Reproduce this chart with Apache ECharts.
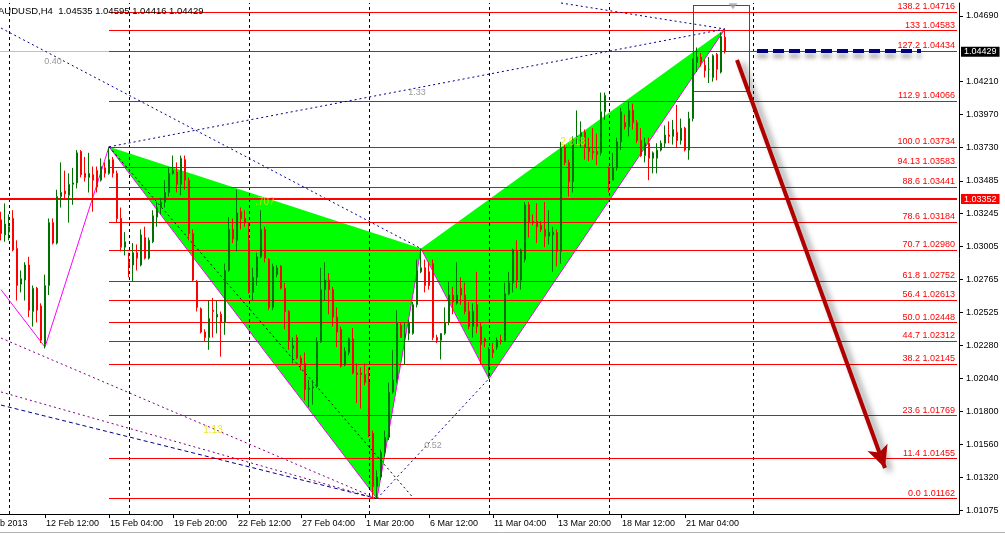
<!DOCTYPE html>
<html><head><meta charset="utf-8">
<script src="https://cdn.jsdelivr.net/npm/echarts@6/dist/echarts.min.js"></script>
<style>html,body{margin:0;padding:0;background:#fff;overflow:hidden;width:1005px;height:534px;position:relative}
#c{position:absolute;left:-21px;top:0;width:1026px;height:534px}</style>
</head><body><div id="c"></div>
<script>
// ---------- DATA ----------
const symbolTitle = 'AUDUSD,H4  1.04535 1.04595 1.04416 1.04429';
const slotCount = 245;            // time slots on the x axis (bars + future)
const firstBarSlot = 5;           // slot of first bar (8 Feb 2013 16:00)
const xTickLabels = [[0,'7 Feb 2013'],[16,'12 Feb 12:00'],[32,'15 Feb 04:00'],[48,'19 Feb 20:00'],[64,'22 Feb 12:00'],[80,'27 Feb 04:00'],[96,'1 Mar 20:00'],[112,'6 Mar 12:00'],[128,'11 Mar 04:00'],[144,'13 Mar 20:00'],[160,'18 Mar 12:00'],[176,'21 Mar 04:00']];
const yTickValues = [1.01075,1.01320,1.01560,1.01800,1.02040,1.02280,1.02525,1.02765,1.03005,1.03245,1.03485,1.03730,1.03970,1.04210,1.04690];
const weekGridSlots = [7,37,67,97,127,157,193];
// bars: [open, high, low, close]
const ohlc = [
[1.0320,1.0326,1.0305,1.0310],[1.0309,1.0332,1.0304,1.0317],[1.0311,1.0324,1.0305,1.0315],[1.0321,1.0327,1.0297,1.0298],
[1.0299,1.0305,1.0261,1.0272],[1.0273,1.0283,1.0267,1.0277],[1.0276,1.0289,1.0261,1.0287],[1.0287,1.0293,1.0249,1.0254],
[1.0253,1.0272,1.0242,1.0270],[1.0270,1.0271,1.0245,1.0254],[1.0257,1.0259,1.0230,1.0232],[1.0229,1.0280,1.0226,1.0272],
[1.0272,1.0321,1.0265,1.0318],[1.0318,1.0321,1.0302,1.0303],[1.0303,1.0342,1.0302,1.0337],[1.0337,1.0362,1.0329,1.0340],
[1.0341,1.0356,1.0335,1.0339],[1.0338,1.0354,1.0318,1.0346],[1.0346,1.0358,1.0331,1.0347],[1.0347,1.0371,1.0343,1.0369],
[1.0370,1.0371,1.0351,1.0353],[1.0354,1.0366,1.0348,1.0351],[1.0351,1.0369,1.0340,1.0354],[1.0353,1.0359,1.0326,1.0349],
[1.0356,1.0359,1.0340,1.0344],[1.0349,1.0365,1.0348,1.0359],[1.0358,1.0362,1.0351,1.0354],[1.0354,1.0373,1.0353,1.0364],
[1.0364,1.0366,1.0351,1.0354],[1.0354,1.0356,1.0318,1.0321],[1.0321,1.0329,1.0297,1.0300],[1.0300,1.0311,1.0294,1.0304],
[1.0289,1.0296,1.0278,1.0287],[1.0287,1.0303,1.0275,1.0296],[1.0296,1.0302,1.0283,1.0292],[1.0287,1.0313,1.0286,1.0309],
[1.0307,1.0315,1.0291,1.0292],[1.0292,1.0307,1.0291,1.0305],[1.0304,1.0327,1.0303,1.0323],[1.0322,1.0333,1.0315,1.0329],
[1.0329,1.0336,1.0324,1.0333],[1.0333,1.0349,1.0329,1.0340],[1.0340,1.0358,1.0337,1.0354],[1.0354,1.0367,1.0353,1.0356],
[1.0355,1.0362,1.0340,1.0346],[1.0346,1.0367,1.0338,1.0365],[1.0364,1.0367,1.0342,1.0349],[1.0349,1.0351,1.0305,1.0310],
[1.0310,1.0313,1.0275,1.0276],[1.0275,1.0276,1.0253,1.0256],[1.0255,1.0256,1.0237,1.0238],[1.0238,1.0240,1.0231,1.0234],
[1.0234,1.0261,1.0225,1.0248],[1.0254,1.0263,1.0234,1.0253],[1.0249,1.0261,1.0237,1.0251],[1.0251,1.0253,1.0220,1.0245],
[1.0245,1.0288,1.0236,1.0283],[1.0283,1.0322,1.0282,1.0313],[1.0313,1.0321,1.0303,1.0306],[1.0305,1.0342,1.0297,1.0325],
[1.0326,1.0329,1.0313,1.0321],[1.0321,1.0327,1.0315,1.0318],[1.0305,1.0318,1.0266,1.0267],[1.0267,1.0285,1.0261,1.0278],
[1.0278,1.0296,1.0272,1.0293],[1.0293,1.0327,1.0292,1.0313],[1.0313,1.0315,1.0289,1.0292],[1.0291,1.0292,1.0254,1.0256],
[1.0256,1.0288,1.0254,1.0286],[1.0280,1.0287,1.0278,1.0285],[1.0286,1.0287,1.0269,1.0270],[1.0270,1.0274,1.0240,1.0253],
[1.0253,1.0254,1.0225,1.0232],[1.0226,1.0234,1.0215,1.0228],[1.0234,1.0236,1.0218,1.0219],[1.0219,1.0221,1.0210,1.0215],
[1.0215,1.0223,1.0188,1.0196],[1.0196,1.0203,1.0183,1.0197],[1.0197,1.0203,1.0185,1.0198],[1.0198,1.0234,1.0197,1.0231],
[1.0231,1.0285,1.0230,1.0269],[1.0269,1.0289,1.0261,1.0276],[1.0276,1.0281,1.0251,1.0269],[1.0269,1.0271,1.0242,1.0249],
[1.0249,1.0256,1.0227,1.0238],[1.0240,1.0242,1.0212,1.0213],[1.0214,1.0227,1.0213,1.0224],[1.0223,1.0234,1.0221,1.0233],
[1.0233,1.0241,1.0207,1.0208],[1.0208,1.0215,1.0186,1.0207],[1.0208,1.0212,1.0182,1.0207],[1.0207,1.0215,1.0199,1.0201],
[1.0201,1.0212,1.0161,1.0163],[1.0164,1.0166,1.0117,1.0125],[1.0125,1.0137,1.01162,1.0132],[1.0132,1.0152,1.0130,1.0150],
[1.0150,1.0166,1.0147,1.0161],[1.0161,1.0201,1.0159,1.0194],[1.0194,1.0225,1.0193,1.0203],[1.0203,1.0254,1.0201,1.0245],
[1.0243,1.0245,1.0234,1.0234],[1.0234,1.0245,1.0214,1.0237],[1.0237,1.0247,1.0232,1.0245],[1.0237,1.0260,1.0236,1.0258],
[1.0258,1.0291,1.0256,1.0283],[1.0282,1.0299,1.0281,1.0285],[1.0285,1.0291,1.0267,1.0272],[1.0282,1.0289,1.0269,1.0272],
[1.0288,1.0291,1.0232,1.0234],[1.0234,1.0236,1.0230,1.0232],[1.0232,1.0237,1.0218,1.0237],[1.0237,1.0256,1.0236,1.0245],
[1.0245,1.0275,1.0243,1.0265],[1.0265,1.0271,1.0251,1.0260],[1.0259,1.0289,1.0258,1.0265],[1.0270,1.0278,1.0258,1.0265],
[1.0265,1.0274,1.0251,1.0253],[1.0253,1.0260,1.0240,1.0242],[1.0242,1.0259,1.0234,1.0253],[1.0258,1.0282,1.0237,1.0242],
[1.0242,1.0245,1.0214,1.0229],[1.0233,1.0234,1.0227,1.0231],[1.0213,1.0227,1.0204,1.0225],[1.0225,1.0230,1.0219,1.0223],
[1.0227,1.0234,1.0225,1.0232],[1.0232,1.0236,1.0229,1.0231],[1.0232,1.0274,1.0231,1.0266],[1.0266,1.0282,1.0265,1.0274],
[1.0274,1.0299,1.0267,1.0298],[1.0297,1.0305,1.0270,1.0276],[1.0276,1.0299,1.0269,1.0298],[1.0291,1.0333,1.0289,1.0331],
[1.0331,1.0333,1.0307,1.0318],[1.0319,1.0324,1.0316,1.0318],[1.0319,1.0332,1.0303,1.0315],[1.0316,1.0319,1.0311,1.0313],
[1.0313,1.0333,1.0300,1.0308],[1.0308,1.0327,1.0302,1.0311],[1.0309,1.0315,1.0282,1.0311],[1.0311,1.0313,1.0286,1.0297],
[1.0297,1.0377,1.0288,1.0373],[1.0373,1.0375,1.0360,1.0362],[1.0362,1.0364,1.0337,1.0348],[1.0348,1.0381,1.0340,1.0378],
[1.0378,1.0400,1.0375,1.0381],[1.0381,1.0392,1.0373,1.0384],[1.0384,1.0386,1.0364,1.0373],[1.0373,1.0380,1.0363,1.0370],
[1.0370,1.0387,1.0364,1.0369],[1.0370,1.0383,1.0360,1.0368],[1.0369,1.0413,1.0367,1.0399],[1.0399,1.0413,1.0393,1.0411],
[1.0358,1.0359,1.0340,1.0349],[1.0349,1.0369,1.0349,1.0358],[1.0358,1.0380,1.0356,1.0377],[1.0377,1.0402,1.0371,1.0399],
[1.0391,1.0397,1.0386,1.0388],[1.0388,1.0406,1.0381,1.0400],[1.0400,1.0405,1.0386,1.0391],[1.0391,1.0393,1.0376,1.0378],
[1.0378,1.0387,1.0366,1.0367],[1.0367,1.0380,1.0362,1.0376],[1.0376,1.0380,1.0349,1.0365],[1.0365,1.0370,1.0354,1.0369],
[1.0365,1.0376,1.0354,1.0371],[1.0371,1.0378,1.0370,1.0376],[1.0376,1.0389,1.0373,1.0382],[1.0382,1.0392,1.0376,1.0381],
[1.0381,1.0393,1.0375,1.0386],[1.0384,1.0404,1.0373,1.0378],[1.0378,1.0394,1.0375,1.0387],[1.0387,1.0388,1.0370,1.0371],
[1.0371,1.0399,1.0364,1.0394],[1.0394,1.0438,1.0392,1.0435],[1.0435,1.0446,1.0428,1.0439],[1.0439,1.0442,1.0432,1.0435],
[1.0433,1.0437,1.0424,1.0429],[1.0430,1.0439,1.0420,1.0430],[1.0424,1.0441,1.0421,1.0440],[1.0441,1.0442,1.0422,1.0430],
[1.0428,1.0457,1.0427,1.0454],[1.04535,1.04595,1.04416,1.04429]
];
const bidPrice = 1.04429;
const redLinePrice = 1.03352;
const fibStartSlot = 32;
const fibLevels = ['138.2','133','127.2','112.9','100.0','94.13','88.6','78.6','70.7','61.8','56.4','50.0','44.7','38.2','23.6','11.4','0.0'];
const fibPrices = [1.04716,1.04583,1.04434,1.04066,1.03734,1.03583,1.03441,1.03184,1.02980,1.02752,1.02613,1.02448,1.02312,1.02145,1.01769,1.01455,1.01162];
// harmonic pattern points X, A, B, C, D
const patternSlots = [32, 99, 110, 127, 186];
const patternPrices = [1.03734, 1.01162, 1.02990, 1.02040, 1.04595];
const priorLegSlots = [5, 16, 32];
const priorLegPrices = [1.0269, 1.0227, 1.03734];
// dotted ratio lines: [slot1, price1, slot2, price2, colour, dash]
const ratioLines = [
  [5, 1.04602, 110, 1.02990, '#00008b', [2, 3]],
  [32, 1.03734, 186, 1.04595, '#00008b', [2, 3]],
  [145, 1.04785, 186, 1.04595, '#00008b', [2, 3]],
  [99, 1.01162, 127, 1.02040, '#00008b', [2, 3]],
  [32, 1.03734, 108, 1.01170, '#000000', [2, 3]],
  [5, 1.02336, 99, 1.01162, '#800080', [2, 3]],
  [5, 1.01942, 99, 1.01162, '#800080', [2, 3]],
  [5, 1.01846, 99, 1.01162, '#00008b', [4, 3]]
];
const ratioTexts = [[18, 1.04354, '0.40'], [109, 1.04134, '1.33'], [113, 1.01554, '0.52']];
const patternTexts = [[71, 1.03330, '.707'], [148, 1.03769, '2.618'], [58, 1.01664, '1.13']];
const arrowLine = [189, 1.04368, 226, 1.01386];
const navyDash = [194, 1.04434, 235, 1.04434];
const boxRect = [178, 1.04770, 192, 1.04142];   // [slotLeft, priceTop, slotRight, priceBottom]
const markerTop = [188, 1.04762];

// ---------- CATEGORIES (H4 bars, weekends skipped) ----------
const categories = [];
(function () {
  const mon = ['Jan','Feb','Mar','Apr'];
  let t = Date.UTC(2013, 1, 7, 20);
  while (categories.length < slotCount) {
    const d = new Date(t), wd = d.getUTCDay();
    if (wd !== 0 && wd !== 6) categories.push(d.getUTCDate() + ' ' + mon[d.getUTCMonth()] + ' ' + String(d.getUTCHours()).padStart(2, '0') + ':00');
    t += 4 * 3600e3;
  }
})();
const tickMap = new Map(xTickLabels);

const FONT = 'Liberation Sans, Arial, sans-serif';
const candleData = ohlc.map((r, k) => [firstBarSlot + k, r[0], r[3], r[2], r[1]]);
const fullSpan = (p) => [{ coord: [0, p] }, { coord: [slotCount - 1, p] }];
const [bx1, by1, bx2, by2] = boxRect;
const boxEdges = [
  [[bx1, by1], [bx2, by1]], [[bx2, by1], [bx2, by2]], [[bx2, by2], [bx1, by2]], [[bx1, by2], [bx1, by1]]
].map(e => [{ coord: e[0] }, { coord: e[1] }]);

const chart = echarts.init(document.getElementById('c'), null, { renderer: 'canvas' });

const option = {
  animation: false,
  backgroundColor: '#ffffff',
  textStyle: { fontFamily: FONT },
  grid: { left: 0, top: 3, width: 980, height: 511, containLabel: false },
  xAxis: {
    type: 'category', data: categories, boundaryGap: true,
    axisLine: { show: true, lineStyle: { color: '#000', width: 1 } },
    axisTick: { show: true, alignWithLabel: true, length: 4, interval: (i) => tickMap.has(i), lineStyle: { color: '#000' } },
    axisLabel: { interval: (i) => tickMap.has(i), formatter: (v, i) => tickMap.get(i) || '', align: 'left', margin: 5, fontSize: 9, color: '#000', fontFamily: FONT, padding: [0, 0, 0, 1] },
    splitLine: { show: false }
  },
  yAxis: {
    type: 'value', position: 'right', min: 1.0105, max: 1.04785, scale: true,
    axisLine: { show: true, lineStyle: { color: '#000', width: 1 } },
    axisTick: { show: true, length: 4, customValues: yTickValues, lineStyle: { color: '#000' } },
    axisLabel: { customValues: yTickValues, formatter: (v) => v.toFixed(5), margin: 7, fontSize: 9, color: '#000', fontFamily: FONT },
    splitLine: { show: false }
  },
  graphic: [
    { type: 'text', left: 19, top: 6, style: { text: symbolTitle, font: '9.5px ' + FONT, fill: '#000' }, z: 100 },
    { type: 'line', shape: { x1: 21, y1: 532.5, x2: 1026, y2: 532.5 }, style: { stroke: '#b0b0b0', lineWidth: 1 }, z: 100 }
  ],
  series: [
    { // harmonic pattern triangles
      type: 'custom', z: 1, silent: true, clip: true, data: [0],
      renderItem: (params, api) => {
        const P = patternSlots.map((s, k) => api.coord([s, patternPrices[k]]));
        const L = priorLegSlots.map((s, k) => api.coord([s, priorLegPrices[k]]));
        return { type: 'group', children: [
          { type: 'polygon', shape: { points: [P[0], P[1], P[2]] }, style: { fill: '#00ff00' } },
          { type: 'polygon', shape: { points: [P[2], P[3], P[4]] }, style: { fill: '#00ff00' } },
          { type: 'polyline', shape: { points: P }, style: { stroke: '#ff00ff', lineWidth: 1, fill: null } },
          { type: 'polyline', shape: { points: L }, style: { stroke: '#ff00ff', lineWidth: 1, fill: null } }
        ] };
      }
    },
    { // weekly vertical grid
      type: 'line', data: [], z: 2, silent: true,
      markLine: { silent: true, symbol: 'none', label: { show: false },
        lineStyle: { color: '#000', width: 1, type: [3, 3] },
        data: weekGridSlots.map(s => ({ xAxis: s })) }
    },
    { // bid line
      type: 'line', data: [], z: 2, silent: true,
      markLine: { silent: true, symbol: 'none',
        lineStyle: { color: '#c0c0c0', width: 1, type: 'solid' },
        label: { show: true, position: 'end', distance: 4, formatter: bidPrice.toFixed(5), color: '#fff', backgroundColor: '#000', padding: [1, 3, 0, 3], fontSize: 9, fontFamily: FONT, lineHeight: 9 },
        data: [fullSpan(bidPrice)] }
    },
    { // fibonacci levels
      type: 'line', data: [], z: 3, silent: true,
      markLine: { silent: true, symbol: 'none',
        lineStyle: { color: '#ff0000', width: 1, type: 'solid' },
        label: { show: true, position: 'insideEndTop', distance: [2, 1], color: '#ff0000', fontSize: 9, fontFamily: FONT,
          formatter: (p) => fibLevels[p.dataIndex] + ' ' + fibPrices[p.dataIndex].toFixed(5) },
        data: fibPrices.map(p => [{ coord: [fibStartSlot, p] }, { coord: [slotCount - 1, p] }]) }
    },
    { // dotted ratio lines
      type: 'line', data: [], z: 3, silent: true,
      markLine: { silent: true, symbol: 'none', label: { show: false },
        data: ratioLines.map(r => [{ coord: [r[0], r[1]], lineStyle: { color: r[4], width: 1, type: r[5] } }, { coord: [r[2], r[3]] }]) }
    },
    { // candles
      type: 'candlestick', z: 5, silent: true, barWidth: 2,
      encode: { x: 0, y: [1, 2, 3, 4] },
      data: candleData,
      itemStyle: { color: '#ffffff', color0: '#ff0000', borderColor: '#007000', borderColor0: '#ff0000', borderWidth: 1 }
    },
    { // thick red horizontal line
      type: 'line', data: [], z: 6, silent: true,
      markLine: { silent: true, symbol: 'none',
        lineStyle: { color: '#ff0000', width: 2, type: 'solid' },
        label: { show: true, position: 'end', distance: 4, formatter: redLinePrice.toFixed(5), color: '#fff', backgroundColor: '#ff0000', padding: [1, 3, 0, 3], fontSize: 9, fontFamily: FONT, lineHeight: 9 },
        data: [fullSpan(redLinePrice)] }
    },
    { // red outline box around the completion zone
      type: 'line', data: [], z: 6, silent: true,
      markLine: { silent: true, symbol: 'none', label: { show: false },
        lineStyle: { color: '#ff0000', width: 1, type: 'solid' },
        data: boxEdges }
    },
    { // arrow + navy dashed line
      type: 'line', data: [], z: 7, silent: true,
      markLine: { silent: true, label: { show: false },
        data: [
          [{ coord: [arrowLine[0], arrowLine[1]], symbol: 'none', lineStyle: { color: '#b00000', width: 4, type: 'solid', shadowColor: 'rgba(0,0,0,0.45)', shadowBlur: 6, shadowOffsetX: 5, shadowOffsetY: 3 } },
           { coord: [arrowLine[2], arrowLine[3]], symbol: 'arrow', symbolSize: [16, 22] }],
          [{ coord: [navyDash[0], navyDash[1]], symbol: 'none', lineStyle: { color: '#000080', width: 4, type: [11, 5], shadowColor: 'rgba(0,0,0,0.35)', shadowBlur: 4, shadowOffsetY: 5 } },
           { coord: [navyDash[2], navyDash[3]], symbol: 'none' }]
        ] }
    },
    { // ratio labels
      type: 'scatter', z: 8, silent: true, symbolSize: 0,
      data: ratioTexts,
      label: { show: true, position: 'inside', formatter: (p) => p.data[2], color: '#808080', fontSize: 9, fontFamily: FONT }
    },
    { // pattern labels
      type: 'scatter', z: 8, silent: true, symbolSize: 0,
      data: patternTexts,
      label: { show: true, position: 'inside', formatter: (p) => p.data[2], color: '#e0e000', fontSize: 10, fontFamily: FONT }
    },
    { // small grey marker at top
      type: 'scatter', z: 8, silent: true, symbol: 'triangle', symbolRotate: 180, symbolSize: [9, 6],
      itemStyle: { color: '#a0a0a0' }, data: [markerTop]
    }
  ]
};
chart.setOption(option);
</script></body></html>
